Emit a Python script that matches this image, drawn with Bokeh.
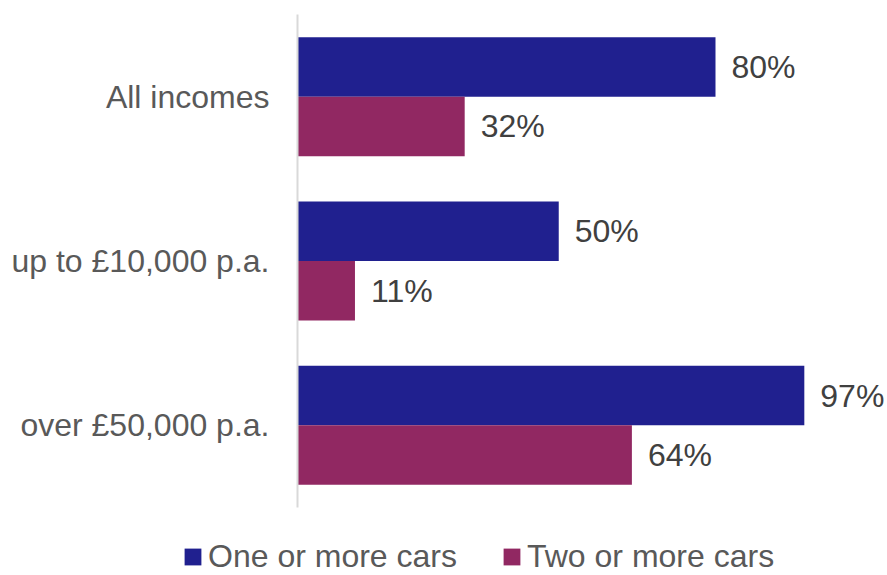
from bokeh.plotting import figure
from bokeh.models import Range1d, FixedTicker, Legend, LegendItem, ColumnDataSource
from bokeh.core.properties import value
from bokeh.embed import file_html
from bokeh.resources import INLINE

categories = ["All incomes", "up to £10,000 p.a.", "over £50,000 p.a."]
one_or_more = [80, 50, 97]
two_or_more = [32, 11, 64]
series_names = ["One or more cars", "Two or more cars"]

NAVY = "#20208F"
PLUM = "#912862"
FONT = "Liberation Sans"

n = len(categories)
centers = [n - i - 0.5 for i in range(n)]
bar_h = 0.362

p = figure(width=887, height=575, output_backend="svg", toolbar_location=None,
           x_range=Range1d(-56.84, 112.92), y_range=Range1d(-0.4138, n + 0.0852),
           min_border=0, x_axis_location=None)
p.outline_line_color = None
p.xgrid.visible = False
p.ygrid.visible = False
p.background_fill_color = "white"
p.border_fill_color = "white"

src1 = ColumnDataSource(dict(y=[c + bar_h / 2 for c in centers], x=one_or_more,
                             lab=[f"{v}%" for v in one_or_more]))
src2 = ColumnDataSource(dict(y=[c - bar_h / 2 for c in centers], x=two_or_more,
                             lab=[f"{v}%" for v in two_or_more]))

r1 = p.hbar(y="y", right="x", left=0, height=bar_h, source=src1, fill_color=NAVY, line_color=None)
r2 = p.hbar(y="y", right="x", left=0, height=bar_h, source=src2, fill_color=PLUM, line_color=None)

for src in (src1, src2):
    p.text(x="x", y="y", text="lab", source=src, x_offset=16, text_baseline="middle",
           text_align="left", text_font=value(FONT), text_font_size="32px", text_color="#404040")

ax = p.yaxis[0]
ax.fixed_location = 0
ax.bounds = (0, n)
ax.ticker = FixedTicker(ticks=centers)
ax.major_label_overrides = {c: cat for c, cat in zip(centers, categories)}
ax.major_tick_line_color = None
ax.minor_tick_line_color = None
ax.major_tick_out = 0
ax.major_tick_in = 0
ax.major_label_standoff = 28
ax.axis_line_color = "#D9D9D9"
ax.axis_line_width = 2
ax.major_label_text_font = FONT
ax.major_label_text_font_size = "32px"
ax.major_label_text_color = "#595959"

legend = Legend(items=[LegendItem(label=series_names[0], renderers=[r1]),
                       LegendItem(label=series_names[1], renderers=[r2])],
                orientation="horizontal", location=(182, 0),
                glyph_width=21, glyph_height=21, label_standoff=5, spacing=44,
                padding=0, margin=0, border_line_color=None, background_fill_alpha=0,
                label_text_font=FONT, label_text_font_size="32px", label_text_color="#595959",
                label_height=32)
p.add_layout(legend, "center")

open("out.html", "w").write(file_html(p, INLINE))
